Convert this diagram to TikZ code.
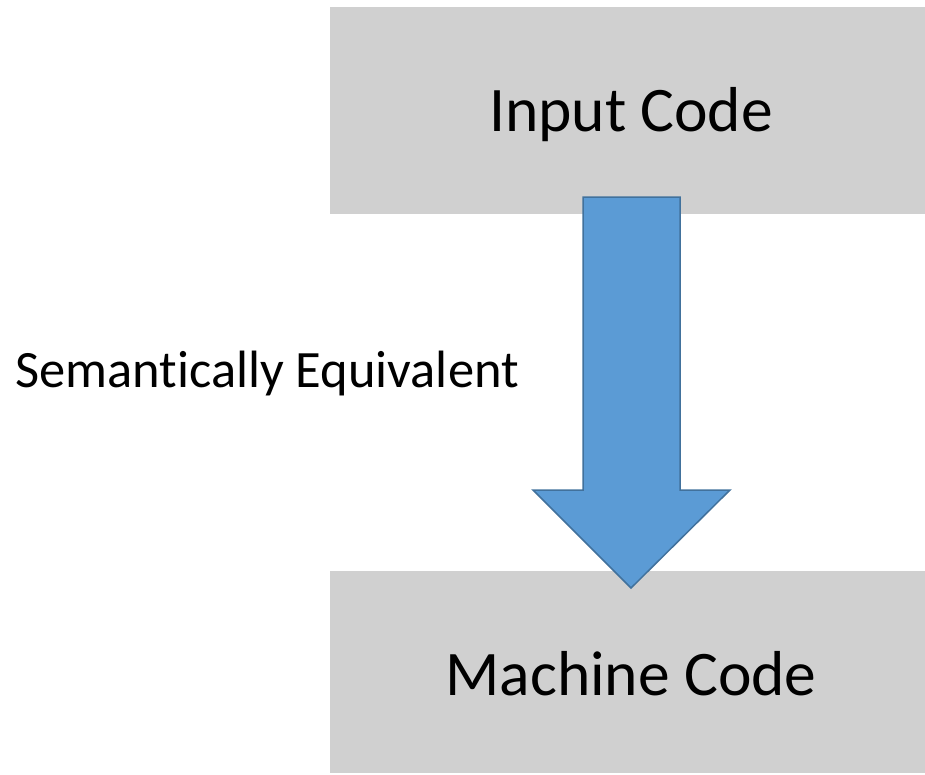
\documentclass[tikz,border=0pt]{standalone}
\usepackage{fontspec}
\setmainfont{Carlito}[Ligatures=NoCommon,RawFeature={-liga;-calt;-dlig}]
\definecolor{boxgrey}{HTML}{D0D0D0}
\definecolor{arrowblue}{HTML}{5B9BD5}
\definecolor{arrowedge}{HTML}{41719C}
\begin{document}
\begin{tikzpicture}[x=1pt,y=-1pt,
  codebox/.style={fill=boxgrey,draw=none,minimum width=595pt,minimum height=207pt,inner sep=0pt,anchor=north west},
  boxtext/.style={font=\fontsize{63.5}{74}\selectfont,inner sep=0pt,anchor=base},
  bigarrow/.style={fill=arrowblue,draw=arrowedge,line width=1.5pt,line join=miter},
  lbl/.style={font=\fontsize{52.5}{62}\selectfont,inner sep=0pt}]
\useasboundingbox (0,0) rectangle (925,774);
\node[codebox] (in) at (330,7) {};
\node[codebox,minimum height=202pt] (mc) at (330,571) {};
\node[boxtext] (intxt) at (631,131) {Input Code};
\node[boxtext] (mctxt) at (631,695) {Machine Code};
\draw[bigarrow] (583,197) -- (680,197) -- (680,490) -- (730,490) -- (631,588) -- (533,490) -- (583,490) -- cycle;
\node[lbl,anchor=base west] (sem) at (15,387) {Semant\kern0pt ically Equivalent};
\end{tikzpicture}
\end{document}
